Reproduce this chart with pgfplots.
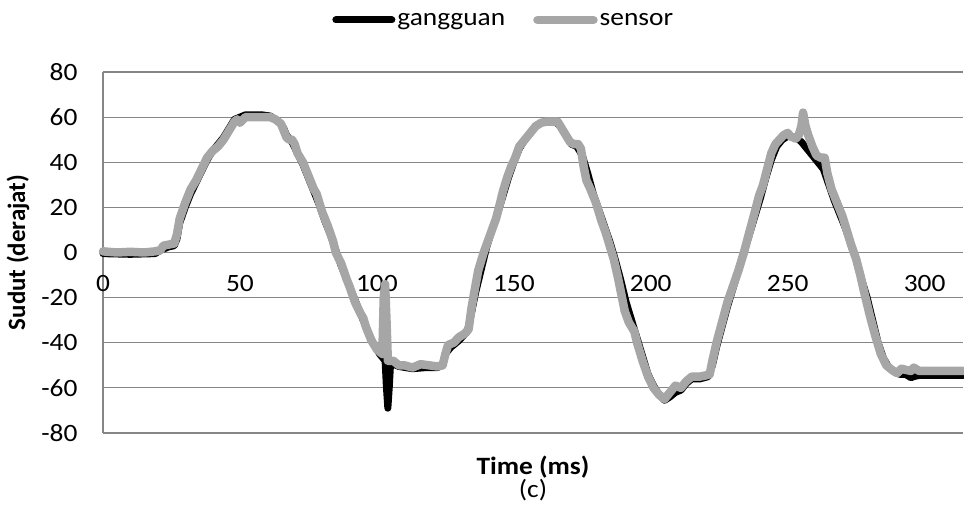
\documentclass[border=0pt]{standalone}
\usepackage{fontspec}
\setmainfont{Carlito}[FakeStretch=1.1]
\newfontfamily\ylabfont{Carlito}
\usepackage{pgfplots}
\pgfplotsset{compat=1.18}
\definecolor{sens}{RGB}{166,166,166}
\definecolor{gridc}{RGB}{134,134,134}
\begin{document}
\begin{tikzpicture}
\begin{axis}[
  scale only axis, width=860bp, height=361bp,
  xmin=0, xmax=314, ymin=-80, ymax=80,
  axis x line=bottom, axis y line=left,
  axis line style={-, draw=gridc, line width=1.2bp},
  ymajorgrids, grid style={draw=gridc, line width=1.2bp},
  xtick={0,50,100,150,200,250,300},
  ytick={-80,-60,-40,-20,0,20,40,60,80},
  yticklabels={-80,-60,-40,-20,0,20,40,60,80},
  xticklabels={0,50,100,150,200,250,300},
  major tick length=0pt,
  tick label style={font=\fontsize{25}{30}\selectfont},
  yticklabel style={anchor=east, xshift=-22bp},
  xticklabel style={anchor=north, yshift=161bp},
  clip=false,
  legend style={draw=none, fill=none, at={(0.466,1)}, anchor=center, yshift=52bp,
    font=\fontsize{25}{30}\selectfont, inner sep=0pt,
    /tikz/every even column/.append style={column sep=26bp}},
  legend columns=2,
  legend image code/.code={\draw[#1, line cap=round] (0bp,0bp) -- (56bp,0bp);},
  every axis plot/.append style={line join=round, line cap=round},
]
\addplot[black, line width=7bp] coordinates {
(0,-0.5) (10,-0.8) (19,-0.5) (21,1) (24,2.5) (26,3) (27,6) (28,13) (30,20) (32,26)
(34,31) (36,36) (38,41) (40,45) (42,48) (44,51) (46,55) (48,59) (50,60) (52,61)
(55,61) (58,61) (61,60.5) (63,59) (65,57) (66,55) (67,52) (69,49) (71,44) (73,39)
(75,33) (77,27) (79,21) (81,14) (83,8) (85,1) (87,-6) (89,-12) (91,-18) (93,-24)
(95,-30) (97,-36) (99,-41) (101,-45) (103,-48) (103.5,-60) (104,-69) (104.5,-60) (105,-49)
(108,-50.5) (113,-51.5) (118,-51) (122,-51) (124,-50) (125,-45) (127,-42) (130,-39)
(133,-35) (134.5,-27) (136,-18) (138,-8) (140,2) (142,10) (144,17) (146,25) (148,33)
(150,40) (152,46) (154,50) (156,53) (158,56) (160,57.5) (162,58) (165,58) (167,56)
(169,52) (171,48) (173,47) (175,43) (177,35) (179,26) (181,19) (183,12) (185,5)
(187,-3) (189,-12) (191,-22) (193,-30) (195,-38) (197,-46) (199,-54) (201,-59)
(203,-63) (205,-65.5) (207,-64) (209,-62) (211,-61) (213,-58) (215,-56) (218,-56)
(221,-55) (222.5,-50) (224,-42) (226,-33) (228,-24) (230,-16) (232,-8) (234,0)
(236,8) (238,16) (240,24) (242,33) (244,41) (246,47) (248,50) (250,51.5) (253,51)
(255,49) (257,46) (259,43) (261,40) (263,37) (265,30) (267,23) (269,17) (271,11)
(273,4) (275,-3) (277,-12) (279,-20) (281,-30) (283,-40) (285,-47) (287,-51)
(289,-53) (291,-54) (293,-54) (295,-55.5) (296,-55) (298,-54.5) (314,-54.5)
};
\addlegendentry{gangguan}
\addplot[sens, line width=8.5bp] coordinates {
(0,0.5) (5,0) (10,0.3) (15,0) (19,0.5) (21,1) (22,3) (24,3.5) (26,4) (27,8) (28,15)
(30,22) (32,28) (34,32) (36,37) (38,42) (40,45) (42,47) (44,50) (46,54) (48,58)
(49,59) (50,57.5) (52,60) (55,60) (58,60) (61,60) (63,59) (65,57) (66,54) (67,51)
(68,50) (69,50) (70,48) (71,44) (73,40) (75,34) (77,28) (78,26) (80,18) (81,15)
(82,12) (84,5) (85,0) (87,-5) (89,-12) (90,-15) (92,-22) (94,-27) (95,-29) (96,-33)
(98,-39) (99,-41) (100,-43) (101,-44) (102,-45) (102.5,-20) (103,-14) (103.5,-30)
(104,-48) (106,-48) (108,-50) (110,-50) (113,-51) (116,-49.5) (119,-50) (122,-50.5)
(124,-50) (125,-45) (126,-41) (128,-40) (130,-37.5) (132,-36) (133.5,-34) (134.5,-25)
(135.5,-18) (137,-8) (139,0) (140.5,5) (142,10) (143.5,15) (145,22) (146,27)
(147.5,33) (149,38) (150.5,42) (152,47) (154,50) (156,53) (158,56) (160,57.5)
(162,58) (164,58) (166,58) (167,56) (169,52) (170.5,49) (172,48) (173.5,48)
(174.5,46) (175.5,38) (176.5,32) (178,28) (180,22) (182,14) (183.5,9) (185,3)
(186.5,-3) (188,-11) (189.5,-20) (190.5,-26) (192,-31) (194,-35) (195,-40) (197,-48)
(199,-55) (201,-60) (203,-63) (205,-65) (207,-62) (209,-59) (211,-60) (213,-57)
(215,-55) (218,-55) (220,-54.5) (221.5,-54) (222.5,-48) (224,-40) (226,-31) (228,-22)
(230,-15) (232,-8) (234,0) (236,9) (238,18) (239.5,25) (241,30) (242.5,37) (244,44)
(245.5,48) (247,50) (248.5,52) (250,53) (251,51.5) (253,50.5) (254,52) (255,56)
(255.6,62) (256.5,56) (257.5,52) (259,47) (260.5,43) (262,42) (263.5,42) (264.5,35)
(266,28) (268,22) (270,16) (271.5,10) (273,4) (275,-3) (276.5,-10) (278,-18)
(280,-28) (282,-37) (284,-45) (286,-50) (288,-52) (290,-53.5) (291.5,-51.5)
(293,-52) (295,-52.5) (296,-51) (298,-52.5) (305,-52.5) (314,-52.5)
};
\addlegendentry{sensor}
\coordinate (SW) at (rel axis cs:0,0);
\coordinate (NE) at (rel axis cs:1,1);
\node[font=\fontsize{25}{30}\selectfont\bfseries] at ([yshift=-34bp]rel axis cs:0.5,0) {Time (ms)};
\node[font=\fontsize{25}{30}\selectfont] at ([yshift=-57bp]rel axis cs:0.5,0) {(c)};
\node[font=\ylabfont\fontsize{25}{30}\selectfont\bfseries, rotate=90] at ([xshift=-85bp]rel axis cs:0,0.5) {Sudut (derajat)};
\end{axis}
\pgfresetboundingbox
\useasboundingbox ([shift={(-103bp,-73bp)}]SW) rectangle ([shift={(1bp,72bp)}]NE);
\end{tikzpicture}
\end{document}
